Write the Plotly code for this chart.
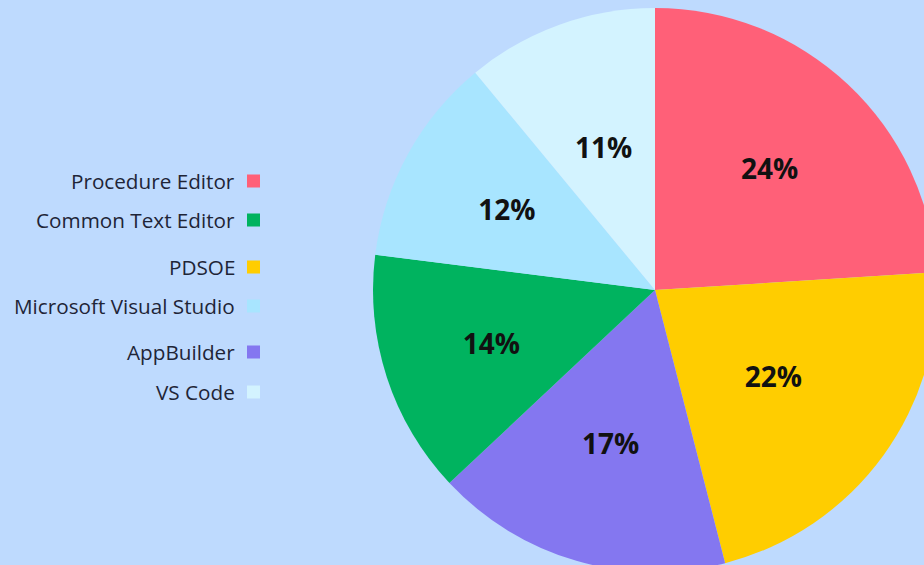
import plotly.graph_objects as go

# ---- data ----
labels = ["Procedure Editor", "PDSOE", "AppBuilder", "Common Text Editor",
          "Microsoft Visual Studio", "VS Code"]
values = [24, 22, 17, 14, 12, 11]
legend_order = ["Procedure Editor", "Common Text Editor", "PDSOE",
                "Microsoft Visual Studio", "AppBuilder", "VS Code"]

# ---- styles ----
colors = {
    "Procedure Editor": "#FF6078",
    "PDSOE": "#FFCD00",
    "AppBuilder": "#8477F0",
    "Common Text Editor": "#00B35F",
    "Microsoft Visual Studio": "#A8E5FF",
    "VS Code": "#D3F3FF",
}
BG = "#BEDAFE"
LABEL_FONT = dict(family="Open Sans", size=28, color="#111111", weight="bold")
LEGEND_FONT = dict(family="Open Sans", size=20.7, color="#1F2537")
W, H = 940, 575          # figure is cropped to 924x565 by the page
CX, CY, R = 655, 290, 282  # pie centre / radius in pixels (from top-left)

# label layers: relative radius of the (transparent) pie that places each label
label_layer = {
    "Procedure Editor": 1.0,
    "PDSOE": 0.85, "AppBuilder": 0.85, "Common Text Editor": 0.87,
    "Microsoft Visual Studio": 0.82,
    "VS Code": 0.72,
}


def domain(k):
    r = R * k
    return dict(x=[(CX - r) / W, (CX + r) / W],
                y=[1 - (CY + r) / H, 1 - (CY - r) / H])


fig = go.Figure()
fig.add_trace(go.Pie(
    labels=labels, values=values, sort=False,
    direction="clockwise", rotation=0,
    marker=dict(colors=[colors[l] for l in labels], line=dict(width=0)),
    textinfo="none", showlegend=False,
    hoverinfo="label+percent",
    domain=domain(1.0),
))

for k in sorted(set(label_layer.values()), reverse=True):
    fig.add_trace(go.Pie(
        labels=labels, values=values, sort=False,
        direction="clockwise", rotation=0,
        marker=dict(colors=["rgba(0,0,0,0)"] * len(labels), line=dict(width=0)),
        texttemplate=["%{percent:.0%}" if label_layer[l] == k else ""
                      for l in labels],
        textposition="inside",
        insidetextorientation="horizontal",
        textfont=LABEL_FONT,
        showlegend=False, hoverinfo="skip",
        domain=domain(k),
    ))

# custom legend (text left of swatch), built from legend_order
legend_y_px = [181, 220, 267, 306, 352, 392]
shapes = []
annotations = []
for name, ypx in zip(legend_order, legend_y_px):
    yp = 1 - ypx / H
    annotations.append(dict(
        x=237 / W, y=yp, xref="paper", yref="paper", text=name,
        showarrow=False, xanchor="right", yanchor="middle",
        font=LEGEND_FONT,
    ))
    shapes.append(dict(
        type="rect", xref="paper", yref="paper",
        x0=247 / W, x1=260 / W, y0=yp - 6.5 / H, y1=yp + 6.5 / H,
        fillcolor=colors[name], line=dict(width=0),
    ))

fig.update_layout(
    width=W, height=H,
    margin=dict(l=0, r=0, t=0, b=0),
    paper_bgcolor=BG, plot_bgcolor=BG,
    annotations=annotations, shapes=shapes,
    font=dict(family="Open Sans"),
)

post = ("var d=document.getElementById('{plot_id}');"
        "var p=d.parentElement;p.style.width='924px';p.style.height='565px';"
        "p.style.overflow='hidden';document.body.style.margin='0';"
        "document.body.style.overflow='hidden';"
        "document.body.style.background='" + BG + "';")
fig.write_html("out.html", post_script=post, config={"displayModeBar": False})
